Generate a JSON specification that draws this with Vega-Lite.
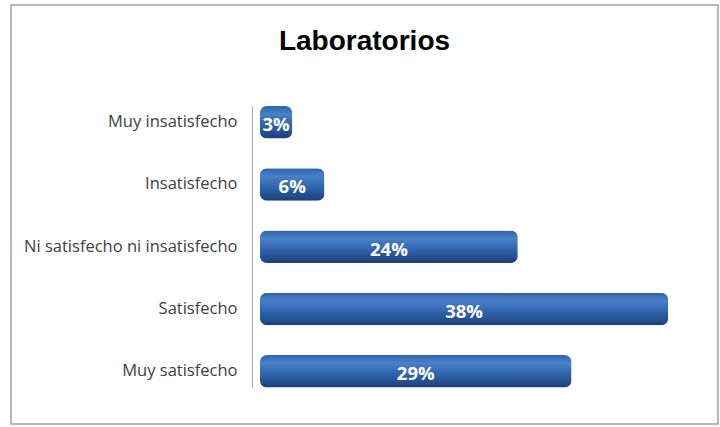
{
  "$schema": "https://vega.github.io/schema/vega-lite/v6.json",
  "width": 707,
  "height": 419,
  "autosize": {"type": "none"},
  "padding": {"left": 11, "top": 5, "right": 2, "bottom": 3},
  "background": "white",
  "title": {
    "text": "Laboratorios",
    "font": "Liberation Sans",
    "fontSize": 28,
    "fontWeight": "bold",
    "color": "#000000",
    "anchor": "middle",
    "frame": "group",
    "offset": -45,
    "dy": 28,
    "baseline": "alphabetic"
  },
  "config": {"view": {"stroke": "#a0a0a0", "strokeWidth": 1.5}},
  "data": {
    "values": [
      {"categoria": "Muy insatisfecho", "valor": 3, "etiqueta": "3%"},
      {"categoria": "Insatisfecho", "valor": 6, "etiqueta": "6%"},
      {"categoria": "Ni satisfecho ni insatisfecho", "valor": 24, "etiqueta": "24%"},
      {"categoria": "Satisfecho", "valor": 38, "etiqueta": "38%"},
      {"categoria": "Muy satisfecho", "valor": 29, "etiqueta": "29%"}
    ]
  },
  "encoding": {
    "y": {
      "field": "categoria",
      "type": "nominal",
      "sort": null,
      "scale": {"paddingInner": 0.478, "paddingOuter": 0, "range": [101, 382.5]},
      "axis": {
        "orient": "left",
        "offset": -241,
        "ticks": false,
        "domain": true,
        "domainColor": "#a8a8a8",
        "labelPadding": 15,
        "labelFont": "Open Sans",
        "labelFontSize": 16.5,
        "labelColor": "#404040",
        "labelLimit": 400,
        "title": null,
        "grid": false
      }
    }
  },
  "layer": [
    {
      "mark": {
        "type": "bar",
        "cornerRadius": 7,
        "color": {
          "gradient": "linear",
          "x1": 0, "y1": 0, "x2": 0, "y2": 1,
          "stops": [
            {"offset": 0, "color": "#2f64ad"},
            {"offset": 0.25, "color": "#4a80c8"},
            {"offset": 0.55, "color": "#3167b0"},
            {"offset": 1, "color": "#1c4078"}
          ]
        }
      },
      "encoding": {
        "x": {
          "field": "valor",
          "type": "quantitative",
          "scale": {"domain": [-23.18, 42.64], "nice": false, "zero": false},
          "axis": null
        }
      }
    },
    {
      "transform": [{"calculate": "datum.valor / 2", "as": "centro"}],
      "mark": {
        "type": "text",
        "font": "Open Sans",
        "fontSize": 18.5,
        "fontWeight": "bold",
        "color": "white",
        "baseline": "middle",
        "align": "center",
        "dy": 3
      },
      "encoding": {
        "x": {"field": "centro", "type": "quantitative"},
        "text": {"field": "etiqueta"}
      }
    }
  ]
}
